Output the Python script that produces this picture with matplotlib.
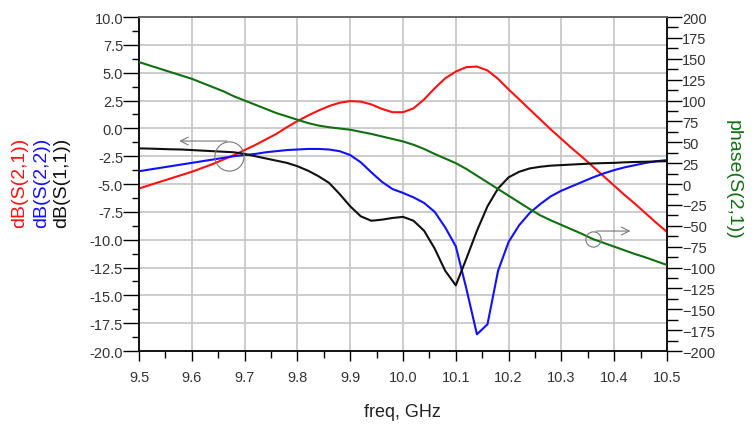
import numpy as np
import matplotlib
matplotlib.use("Agg")
import matplotlib.pyplot as plt
from matplotlib.ticker import MultipleLocator

plt.rcParams['font.family'] = ['Liberation Sans', 'DejaVu Sans']

# frequency sweep, GHz (0.02 GHz step)
freq = [9.50, 9.52, 9.54, 9.56, 9.58, 9.60, 9.62, 9.64, 9.66, 9.68,
        9.70, 9.72, 9.74, 9.76, 9.78, 9.80, 9.82, 9.84, 9.86, 9.88,
        9.90, 9.92, 9.94, 9.96, 9.98, 10.00, 10.02, 10.04, 10.06, 10.08,
        10.10, 10.12, 10.14, 10.16, 10.18, 10.20, 10.22, 10.24, 10.26, 10.28,
        10.30, 10.32, 10.34, 10.36, 10.38, 10.40, 10.42, 10.44, 10.46, 10.48,
        10.50]

# dB(S(2,1))
s21_db = [-5.4, -5.1, -4.8, -4.5, -4.2, -3.9, -3.55, -3.2, -2.8, -2.4,
          -1.95, -1.5, -1.0, -0.5, 0.1, 0.65, 1.15, 1.6, 2.0, 2.3,
          2.45, 2.4, 2.15, 1.75, 1.45, 1.45, 1.8, 2.6, 3.6, 4.5,
          5.1, 5.5, 5.55, 5.2, 4.45, 3.5, 2.6, 1.7, 0.8, -0.1,
          -0.95, -1.8, -2.6, -3.45, -4.3, -5.15, -6.0, -6.8, -7.65, -8.5,
          -9.3]

# dB(S(2,2))
s22_db = [-3.85, -3.7, -3.55, -3.4, -3.25, -3.1, -2.95, -2.8, -2.65, -2.5,
          -2.4, -2.3, -2.15, -2.05, -1.95, -1.9, -1.85, -1.85, -1.9, -2.05,
          -2.4, -3.05, -3.95, -4.8, -5.45, -5.8, -6.2, -6.7, -7.5, -8.9,
          -10.6, -14.4, -18.5, -17.6, -12.8, -10.2, -8.7, -7.6, -6.8, -6.1,
          -5.6, -5.2, -4.8, -4.4, -4.05, -3.75, -3.5, -3.3, -3.1, -2.95,
          -2.85]

# dB(S(1,1))
s11_db = [-1.8, -1.82, -1.85, -1.88, -1.9, -1.95, -2.0, -2.05, -2.1, -2.15,
          -2.3, -2.5, -2.7, -2.9, -3.1, -3.4, -3.8, -4.3, -4.9, -5.9,
          -7.0, -7.9, -8.3, -8.2, -8.05, -7.95, -8.3, -9.2, -10.8, -12.8,
          -14.1, -11.7, -9.2, -7.0, -5.4, -4.4, -3.9, -3.6, -3.45, -3.35,
          -3.3, -3.25, -3.2, -3.15, -3.12, -3.1, -3.05, -3.02, -3.0, -2.97,
          -2.95]

# phase(S(2,1)), degrees
s21_phase = [146, 142, 138, 134, 130, 126, 121, 116, 111, 105,
             100, 95, 90, 85, 81, 77, 73, 70, 68, 66.5,
             65, 62.5, 60, 57, 54, 51, 47, 42, 36, 30.5,
             25, 18, 10, 2, -6, -14, -22, -30, -37.5, -43.5,
             -49, -54.5, -60, -66, -70.5, -75, -79.5, -84, -88, -92.5,
             -97]

x_ticks = [9.5, 9.6, 9.7, 9.8, 9.9, 10.0, 10.1, 10.2, 10.3, 10.4, 10.5]
x_tick_labels = ['9.5', '9.6', '9.7', '9.8', '9.9', '10.0', '10.1', '10.2', '10.3', '10.4', '10.5']

fig = plt.figure(figsize=(7.53, 4.27), dpi=100)
ax = fig.add_axes([0.1846, 0.1756, 0.7012, 0.7822])
ax2 = ax.twinx()

lw = 1.5
ax.plot(freq, s21_db, color='#ff1010', lw=lw, zorder=3)
ax.plot(freq, s22_db, color='#1010ff', lw=lw, zorder=3)
ax.plot(freq, s11_db, color='#101010', lw=lw, zorder=3)
ax2.plot(freq, s21_phase, color='#107010', lw=lw, zorder=3)

ax.set_xlim(9.5, 10.5)
ax.set_ylim(-20, 10)
ax2.set_ylim(-200, 200)

ax.set_xticks(x_ticks)
ax.set_xticklabels(x_tick_labels)
ax.xaxis.set_minor_locator(MultipleLocator(0.05))
ax.yaxis.set_major_locator(MultipleLocator(2.5))
ax.yaxis.set_minor_locator(MultipleLocator(1.25))
ax.yaxis.set_major_formatter(matplotlib.ticker.FormatStrFormatter('%.1f'))
ax2.yaxis.set_major_locator(MultipleLocator(25))
ax2.yaxis.set_minor_locator(MultipleLocator(12.5))

ax.grid(True, which='major', color='#c8c8c8', lw=1.3)
ax.set_axisbelow(True)

tick_col = '#333333'
ax.tick_params(axis='y', which='major', length=11.5, width=1.0, pad=0,
               labelsize=10.5, labelcolor=tick_col, direction='out')
ax.tick_params(axis='y', which='minor', length=5, width=1.0, direction='out')
ax.tick_params(axis='x', which='major', length=7, width=1.0, pad=7,
               labelsize=10.5, labelcolor=tick_col, direction='out')
ax.tick_params(axis='x', which='minor', length=5, width=1.0, direction='out')
ax2.tick_params(axis='y', which='major', length=11, width=1.0, pad=0,
                labelsize=10.5, labelcolor=tick_col, direction='out')
ax2.tick_params(axis='y', which='minor', length=8, width=1.0, direction='out')

for a in (ax, ax2):
    for side in ('left', 'right', 'bottom'):
        a.spines[side].set_color('#111111')
        a.spines[side].set_linewidth(1.2)
    a.spines['top'].set_color('#666666')
    a.spines['top'].set_linewidth(1.2)

# annotation markers (circle + arrow pointing to the relevant axis)
ax.plot([9.670], [-2.49], marker='o', ms=21, mfc='none', mec='#777777', mew=0.8, zorder=4)
ax.annotate('', xy=(9.571, -1.14), xytext=(9.672, -1.14),
            arrowprops=dict(arrowstyle='->', color='#777777', lw=0.8,
                            mutation_scale=14))
ax2.plot([10.36], [-65.9], marker='o', ms=11, mfc='none', mec='#777777', mew=0.8, zorder=4)
ax2.annotate('', xy=(10.436, -56.3), xytext=(10.36, -56.3),
             arrowprops=dict(arrowstyle='->', color='#777777', lw=0.8,
                             mutation_scale=14))

# axis labels
fig.text(0.0266, 0.571, 'dB(S(2,1))', color='#ff1010', fontsize=14,
         rotation=90, ha='center', va='center')
fig.text(0.0558, 0.571, 'dB(S(2,2))', color='#1010ff', fontsize=14,
         rotation=90, ha='center', va='center')
fig.text(0.0823, 0.571, 'dB(S(1,1))', color='#111111', fontsize=14,
         rotation=90, ha='center', va='center')
fig.text(0.974, 0.578, 'phase(S(2,1))', color='#107010', fontsize=14,
         rotation=270, ha='center', va='center')
fig.text(0.534, 0.035, 'freq, GHz', color='#222222', fontsize=13,
         ha='center', va='center')

fig.savefig('out.png', dpi=100)
